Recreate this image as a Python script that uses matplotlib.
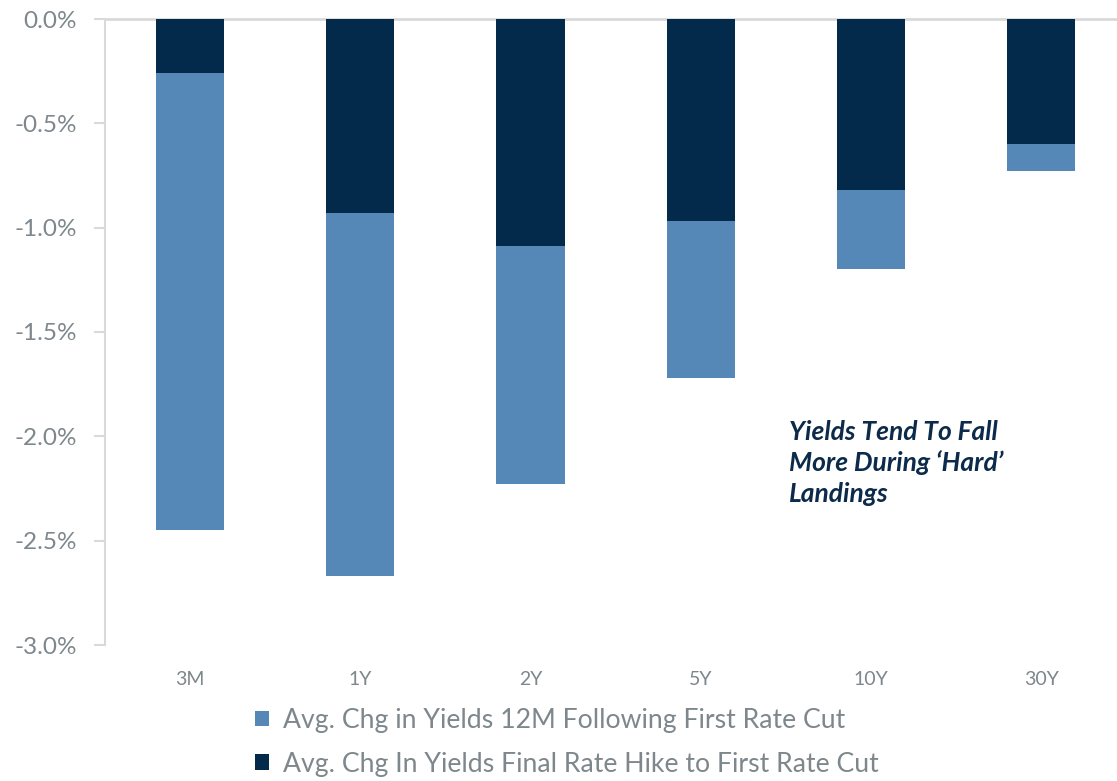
import numpy as np
import matplotlib.pyplot as plt

plt.rcParams['font.family'] = ['Lato', 'DejaVu Sans']

tenors = ['3M', '1Y', '2Y', '5Y', '10Y', '30Y']
# change from final hike to first cut (top segment)
hike_to_cut = [-0.26, -0.93, -1.09, -0.97, -0.82, -0.60]
# further change over the 12 months after the first cut (stacked below)
after_cut = [-2.19, -1.74, -1.14, -0.75, -0.38, -0.13]

label_after = 'Avg. Chg in Yields 12M Following First Rate Cut'
label_hike = 'Avg. Chg In Yields Final Rate Hike to First Rate Cut'

dark = '#032a4b'
light = '#5588b7'
grey_txt = '#7d878c'
grey_line = '#d9d9d9'

fig = plt.figure(figsize=(11.17, 7.81), dpi=100)
ax = fig.add_axes([105/1117, 1 - 645/781, 1012/1117, 626/781])

x = np.arange(len(tenors))
w = 0.4
b1 = ax.bar(x, hike_to_cut, w, color=dark, label=label_hike, zorder=3)
b2 = ax.bar(x, after_cut, w, bottom=hike_to_cut, color=light,
            label=label_after, zorder=3)

ax.set_ylim(-3.0, 0.0)
ax.set_xlim(-0.5, -0.5 + 1012/170.2)
yt = np.arange(-3.0, 0.01, 0.5)
ax.set_yticks(yt)
ax.set_yticklabels([f'{v:.1f}%' for v in yt])
ax.set_xticks(x)
ax.set_xticklabels(tenors)

for s in ['top', 'right', 'bottom']:
    ax.spines[s].set_visible(False)
ax.spines['left'].set_color(grey_line)
ax.spines['left'].set_linewidth(1.5)
ax.axhline(0, color=grey_line, lw=2, zorder=2, clip_on=False)

ax.tick_params(axis='y', colors=grey_line, length=8, width=1.5,
               labelcolor=grey_txt, labelsize=17.5, pad=12)
ax.tick_params(axis='x', length=0, labelcolor=grey_txt, labelsize=14, pad=19)

ax.text(3.52, -1.92, 'Yields Tend To Fall\nMore During \u2018Hard\u2019\nLandings',
        color='#0c2a4a', fontsize=19, fontweight='bold', style='italic',
        va='top', ha='left', linespacing=1.33)

fig.legend(handles=[b2, b1], labels=[label_after, label_hike],
           loc='upper left', bbox_to_anchor=(255/1117, 1 - 708/781),
           frameon=False, fontsize=19.2, labelcolor=grey_txt,
           handlelength=0.53, handleheight=0.53, handletextpad=0.53,
           labelspacing=0.7, borderpad=0, borderaxespad=0)

fig.savefig('out.png', dpi=100)
